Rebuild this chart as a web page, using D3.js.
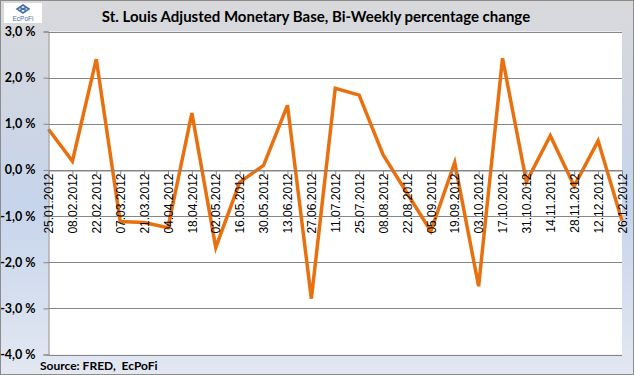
<html lang="en">
<head>
<meta charset="UTF-8">
<title>St. Louis Adjusted Monetary Base</title>
<script src="https://d3js.org/d3.v7.min.js"></script>
<style>
  body { margin: 0; }
  .title { font-family: Lato, "Liberation Sans", sans-serif; font-weight: bold; font-size: 15px; }
  .ylab { font-family: Lato, "Liberation Sans", sans-serif; font-weight: bold; font-size: 12.5px; }
  .xlab { font-family: "Liberation Sans", Arial, sans-serif; font-size: 12px; }
  .source { font-family: Lato, "Liberation Sans", sans-serif; font-weight: bold; font-size: 12px; white-space: pre; }
</style>
</head>
<body>
<svg width="634" height="375"></svg>
<script>
var dates = ["25.01.2012", "08.02.2012", "22.02.2012", "07.03.2012", "21.03.2012",
  "04.04.2012", "18.04.2012", "02.05.2012", "16.05.2012", "30.05.2012",
  "13.06.2012", "27.06.2012", "11.07.2012", "25.07.2012", "08.08.2012",
  "22.08.2012", "05.09.2012", "19.09.2012", "03.10.2012", "17.10.2012",
  "31.10.2012", "14.11.2012", "28.11.2012", "12.12.2012", "26.12.2012"];

// bi-weekly change, percent
var change = [0.88, 0.19, 2.40, -1.12, -1.14,
  -1.25, 1.23, -1.68, -0.27, 0.10,
  1.40, -2.79, 1.77, 1.62, 0.33,
  -0.50, -1.33, 0.16, -2.52, 2.42,
  -0.26, 0.74, -0.35, 0.63, -1.10];

var yTicks = [3, 2, 1, 0, -1, -2, -3, -4];

var svg = d3.select("svg");
var W = 634, H = 375;
var plotL = 48.5, plotR = 622, plotT = 31.5, plotB = 354.5;

var defs = svg.append("defs");
var grad = defs.append("linearGradient").attr("id", "bg")
  .attr("x1", 0).attr("y1", 0).attr("x2", 0).attr("y2", 1);
grad.append("stop").attr("offset", "0%").attr("stop-color", "#d9d9db");
grad.append("stop").attr("offset", "15%").attr("stop-color", "#d3d7df");
grad.append("stop").attr("offset", "55%").attr("stop-color", "#c6d4ec");
grad.append("stop").attr("offset", "100%").attr("stop-color", "#e3e8f2");

svg.append("rect")
  .attr("x", 0.5).attr("y", 0.5).attr("width", W - 1).attr("height", H - 1)
  .attr("fill", "url(#bg)").attr("stroke", "#8c8c8c");

// logo
var logo = svg.append("g").attr("transform", "translate(4,3)");
logo.append("rect").attr("width", 38).attr("height", 20).attr("fill", "#ffffff");
logo.append("path")
  .attr("d", "M19,2 L25,6 L19,10 L13,6 Z M15,4 L23,8 M23,4 L15,8")
  .attr("fill", "none").attr("stroke", "#4a6fa8").attr("stroke-width", 1.6);
logo.append("text").attr("x", 19).attr("y", 18).attr("text-anchor", "middle")
  .attr("font-family", "Liberation Sans, sans-serif").attr("font-size", 6.5)
  .attr("fill", "#4a6fa8").text("EcPoFi");

svg.append("text").attr("class", "title")
  .attr("x", 316).attr("y", 22).attr("text-anchor", "middle")
  .text("St. Louis Adjusted Monetary Base, Bi-Weekly percentage change");

var x = d3.scalePoint().domain(dates).range([plotL, plotR]);
var y = d3.scaleLinear().domain([-4, 3]).range([plotB, plotT]);

svg.append("rect")
  .attr("x", plotL).attr("y", plotT).attr("width", plotR - plotL).attr("height", plotB - plotT)
  .attr("fill", "#ffffff");

// gridlines
svg.append("g")
  .selectAll("line")
  .data(yTicks)
  .enter().append("line")
  .attr("x1", plotL).attr("x2", plotR)
  .attr("y1", function (d) { return Math.round(y(d)) + 0.5; })
  .attr("y2", function (d) { return Math.round(y(d)) + 0.5; })
  .attr("stroke", "#868686");

// line
svg.append("path")
  .datum(change)
  .attr("fill", "none")
  .attr("stroke", "#e8700e")
  .attr("stroke-width", 3.5)
  .attr("stroke-linejoin", "miter")
  .attr("d", d3.line()
    .x(function (d, i) { return x(dates[i]); })
    .y(function (d) { return y(d); }));

// y axis
var yAxis = svg.append("g")
  .attr("transform", "translate(" + plotL + ",0)")
  .call(d3.axisLeft(y).tickValues(yTicks).tickSize(5).tickPadding(8)
    .tickFormat(function (d) { return d3.format(".1f")(d).replace(".", ",").replace("−", "-") + " %"; }));
yAxis.select(".domain").attr("stroke", "#868686");
yAxis.selectAll(".tick line").attr("stroke", "#868686");
yAxis.selectAll("text").attr("class", "ylab").attr("fill", "#000");

// x axis at zero, labels drawn over the line
var xAxis = svg.append("g")
  .attr("transform", "translate(0," + (Math.round(y(0)) + 0.5) + ")")
  .call(d3.axisBottom(x).tickSize(5).tickSizeOuter(0));
xAxis.select(".domain").attr("stroke", "#868686");
xAxis.selectAll(".tick line").attr("stroke", "#868686");
xAxis.selectAll("text")
  .attr("class", "xlab")
  .attr("fill", "#000")
  .attr("text-anchor", "end")
  .attr("transform", "rotate(-90)")
  .attr("x", -3).attr("y", 0).attr("dy", "0.35em");

svg.append("text").attr("class", "source")
  .attr("x", 40).attr("y", 370)
  .text("Source: FRED,  EcPoFi");
</script>
</body>
</html>
